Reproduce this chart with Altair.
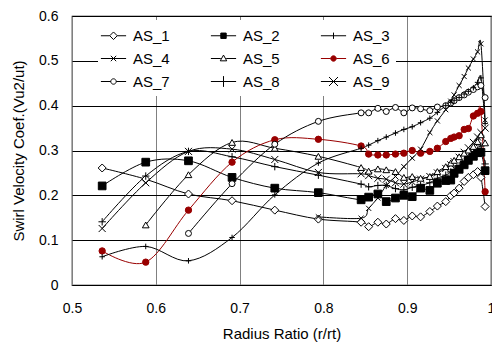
import altair as alt
import pandas as pd

SERIES = ["AS_1", "AS_2", "AS_3", "AS_4", "AS_5", "AS_6", "AS_7", "AS_8", "AS_9"]

R_LEFT = [0.536, 0.588, 0.639, 0.691, 0.742, 0.794]
R_DENSE = [0.845, 0.854, 0.865, 0.875, 0.886, 0.896, 0.906, 0.916, 0.927, 0.936,
           0.946, 0.952, 0.956, 0.962, 0.968, 0.973, 0.979, 0.984, 0.988, 0.993]
RADIUS = R_LEFT + R_DENSE

AS_1 = [0.261, 0.236, 0.203, 0.188, 0.167, 0.147,
        0.140, 0.130, 0.140, 0.136, 0.148, 0.144, 0.154, 0.152, 0.164, 0.176,
        0.186, 0.199, 0.205, 0.216, 0.231, 0.240, 0.246, 0.253, 0.240, 0.175]
AS_2 = [0.221, 0.274, 0.277, 0.240, 0.216, 0.206,
        0.190, 0.196, 0.203, 0.186, 0.194, 0.200, 0.197, 0.216, 0.211, 0.227,
        0.233, 0.234, 0.249, 0.258, 0.268, 0.278, 0.287, 0.295, 0.296, 0.255]
AS_3 = [0.141, 0.243, 0.298, 0.286, 0.264, 0.245,
        0.225, 0.219, 0.222, 0.222, 0.215, 0.212, 0.218, 0.222, 0.228, 0.238,
        0.245, 0.252, 0.258, 0.266, 0.276, 0.285, 0.292, 0.300, 0.310, 0.270]
AS_4 = [0.126, 0.228, 0.298, 0.303, 0.280, 0.251,
        0.248, 0.244, 0.238, 0.236, 0.228, 0.225, 0.230, 0.236, 0.242, 0.250,
        0.260, 0.268, 0.275, 0.285, 0.296, 0.306, 0.318, 0.330, 0.340, 0.350]
AS_5 = [None, 0.134, 0.246, 0.318, 0.305, 0.287,
        0.262, 0.254, 0.259, 0.257, 0.253, 0.240, 0.242, 0.238, 0.242, 0.253,
        0.264, 0.272, 0.278, 0.286, 0.294, 0.301, 0.309, 0.320, 0.335, 0.317]
AS_6 = [0.076, 0.051, 0.167, 0.274, 0.324, 0.325,
        0.310, 0.292, 0.290, 0.290, 0.292, 0.294, 0.300, 0.294, 0.298, 0.305,
        0.320, 0.327, 0.330, 0.333, 0.347, 0.349, 0.377, 0.383, 0.387, 0.208]
AS_7 = [None, None, 0.115, 0.226, 0.314, 0.365,
        0.384, 0.384, 0.394, 0.387, 0.396, 0.384, 0.395, 0.393, 0.389, 0.397,
        0.400, 0.406, 0.411, 0.418, 0.424, 0.430, 0.436, 0.442, 0.445, 0.418]
AS_8 = [0.063, 0.086, 0.054, 0.106, 0.201, 0.272,
        0.305, 0.312, 0.322, 0.330, 0.339, 0.347, 0.353, 0.362, 0.372, 0.385,
        0.400, 0.408, 0.412, 0.418, 0.426, 0.432, 0.440, 0.452, 0.462, 0.360]
AS_9 = [None, None, None, None, None, 0.152,
        0.149, 0.171, 0.194, 0.222, 0.242, 0.264, 0.283, 0.303, 0.340, 0.366,
        0.391, 0.410, 0.424, 0.445, 0.465, 0.484, 0.504, 0.520, 0.538, 0.368]

VALUES = [AS_1, AS_2, AS_3, AS_4, AS_5, AS_6, AS_7, AS_8, AS_9]

rows = []
for name, vals in zip(SERIES, VALUES):
    for r, v in zip(RADIUS, vals):
        if v is not None:
            rows.append({"series": name, "r": r, "v": v})
df = pd.DataFrame(rows)

RED = "#990000"
LINE_COLORS = ["black", "black", "black", "black", "black", RED, "black", "black", "black"]
FILLS = ["white", "black", "black", "black", "white", RED, "white", "black", "black"]

PLUS = "M-1,0H1M0,-1V1"
XMARK = "M-1,-1L1,1M-1,1L1,-1"
SHAPES = ["diamond", "square", PLUS, XMARK, "triangle-up", "circle", "circle", PLUS, XMARK]
SIZES = [64, 26, 49, 36, 42, 36, 36, 110, 100]

def seg(h):
    return f"M-1.4,0H{-h}M{h},0H1.4"

LEG_SHAPES = [
    seg(0.42) + "M-0.42,0L0,-0.42L0.42,0L0,0.42Z",
    "M-1.4,0H1.4M-0.3,-0.3H0.3V0.3H-0.3Z",
    "M-1.4,0H1.4M0,-0.35V0.35",
    "M-1.4,0H1.4M-0.3,-0.3L0.3,0.3M-0.3,0.3L0.3,-0.3",
    seg(0.3) + "M0,-0.38L0.36,0.26L-0.36,0.26Z",
    seg(0.3) + "M-0.3,0A0.3,0.3 0 1,0 0.3,0A0.3,0.3 0 1,0 -0.3,0Z",
    seg(0.3) + "M-0.3,0A0.3,0.3 0 1,0 0.3,0A0.3,0.3 0 1,0 -0.3,0Z",
    "M-1.4,0H1.4M0,-0.6V0.6",
    "M-1.4,0H1.4M-0.5,-0.5L0.5,0.5M-0.5,0.5L0.5,-0.5",
]

FONT = "Liberation Sans"

x_enc = alt.X("r:Q", scale=alt.Scale(domain=[0.5, 1.0], nice=False, zero=False),
              axis=alt.Axis(values=[0.5, 0.6, 0.7, 0.8, 0.9, 1.0], format=".1~f",
                            title="Radius Ratio (r/rt)", grid=True, gridColor="#808080",
                            ticks=False, domain=False, labelFlush=False, labelOverlap=False,
                            labelFont=FONT, labelFontSize=14,
                            labelColor="black", labelPadding=16, titleFont=FONT,
                            titleFontSize=15, titleFontWeight="normal", titleColor="black",
                            titlePadding=11))
y_enc = alt.Y("v:Q", scale=alt.Scale(domain=[0, 0.6], nice=False),
              axis=alt.Axis(values=[0, 0.1, 0.2, 0.3, 0.4, 0.5, 0.6], format=".1~f",
                            title="Swirl Velocity Coef.(Vu2/ut)", grid=True, gridColor="black",
                            ticks=False, domain=False, labelFlush=False, labelOverlap=False,
                            labelFont=FONT, labelFontSize=14,
                            labelColor="black", labelPadding=14, titleFont=FONT,
                            titleFontSize=15, titleFontWeight="normal", titleColor="black",
                            titlePadding=12))

base = alt.Chart(df)

lines = base.mark_line(interpolate="cardinal", tension=0, strokeWidth=1).encode(
    x=x_enc, y=y_enc,
    color=alt.Color("series:N", scale=alt.Scale(domain=SERIES, range=LINE_COLORS), legend=None),
    detail="series:N",
)

points = base.mark_point(strokeWidth=1, opacity=1).encode(
    x=x_enc, y=y_enc,
    shape=alt.Shape("series:N", scale=alt.Scale(domain=SERIES, range=SHAPES), legend=None),
    fill=alt.Fill("series:N", scale=alt.Scale(domain=SERIES, range=FILLS), legend=None),
    stroke=alt.Stroke("series:N", scale=alt.Scale(domain=SERIES, range=LINE_COLORS), legend=None),
    size=alt.Size("series:N", scale=alt.Scale(domain=SERIES, range=SIZES), legend=None),
)

legend_layer = base.transform_filter("false").mark_point(strokeWidth=1, opacity=1, size=324).encode(
    x=x_enc, y=y_enc,
    shape=alt.Shape("series:N", scale=alt.Scale(domain=SERIES, range=LEG_SHAPES),
                    legend=alt.Legend(title=None, orient="none", legendX=26, legendY=4,
                                      direction="horizontal", columns=3,
                                      columnPadding=38, rowPadding=5,
                                      symbolSize=324, symbolStrokeWidth=1,
                                      labelFont=FONT, labelFontSize=15, labelColor="black",
                                      labelOffset=10, fillColor="white", padding=6)),
    fill=alt.Fill("series:N", scale=alt.Scale(domain=SERIES, range=FILLS)),
    stroke=alt.Stroke("series:N", scale=alt.Scale(domain=SERIES, range=LINE_COLORS)),
)

chart = alt.layer(lines, points, legend_layer).resolve_scale(
    shape="independent", fill="independent", stroke="independent"
).properties(
    width=419, height=269,
    padding={"left": 72, "top": 16, "right": 1, "bottom": 62},
    autosize="none",
).configure_view(stroke="black", strokeWidth=1.2)

chart.save("out.html", embed_options={"renderer": "svg", "actions": False})
